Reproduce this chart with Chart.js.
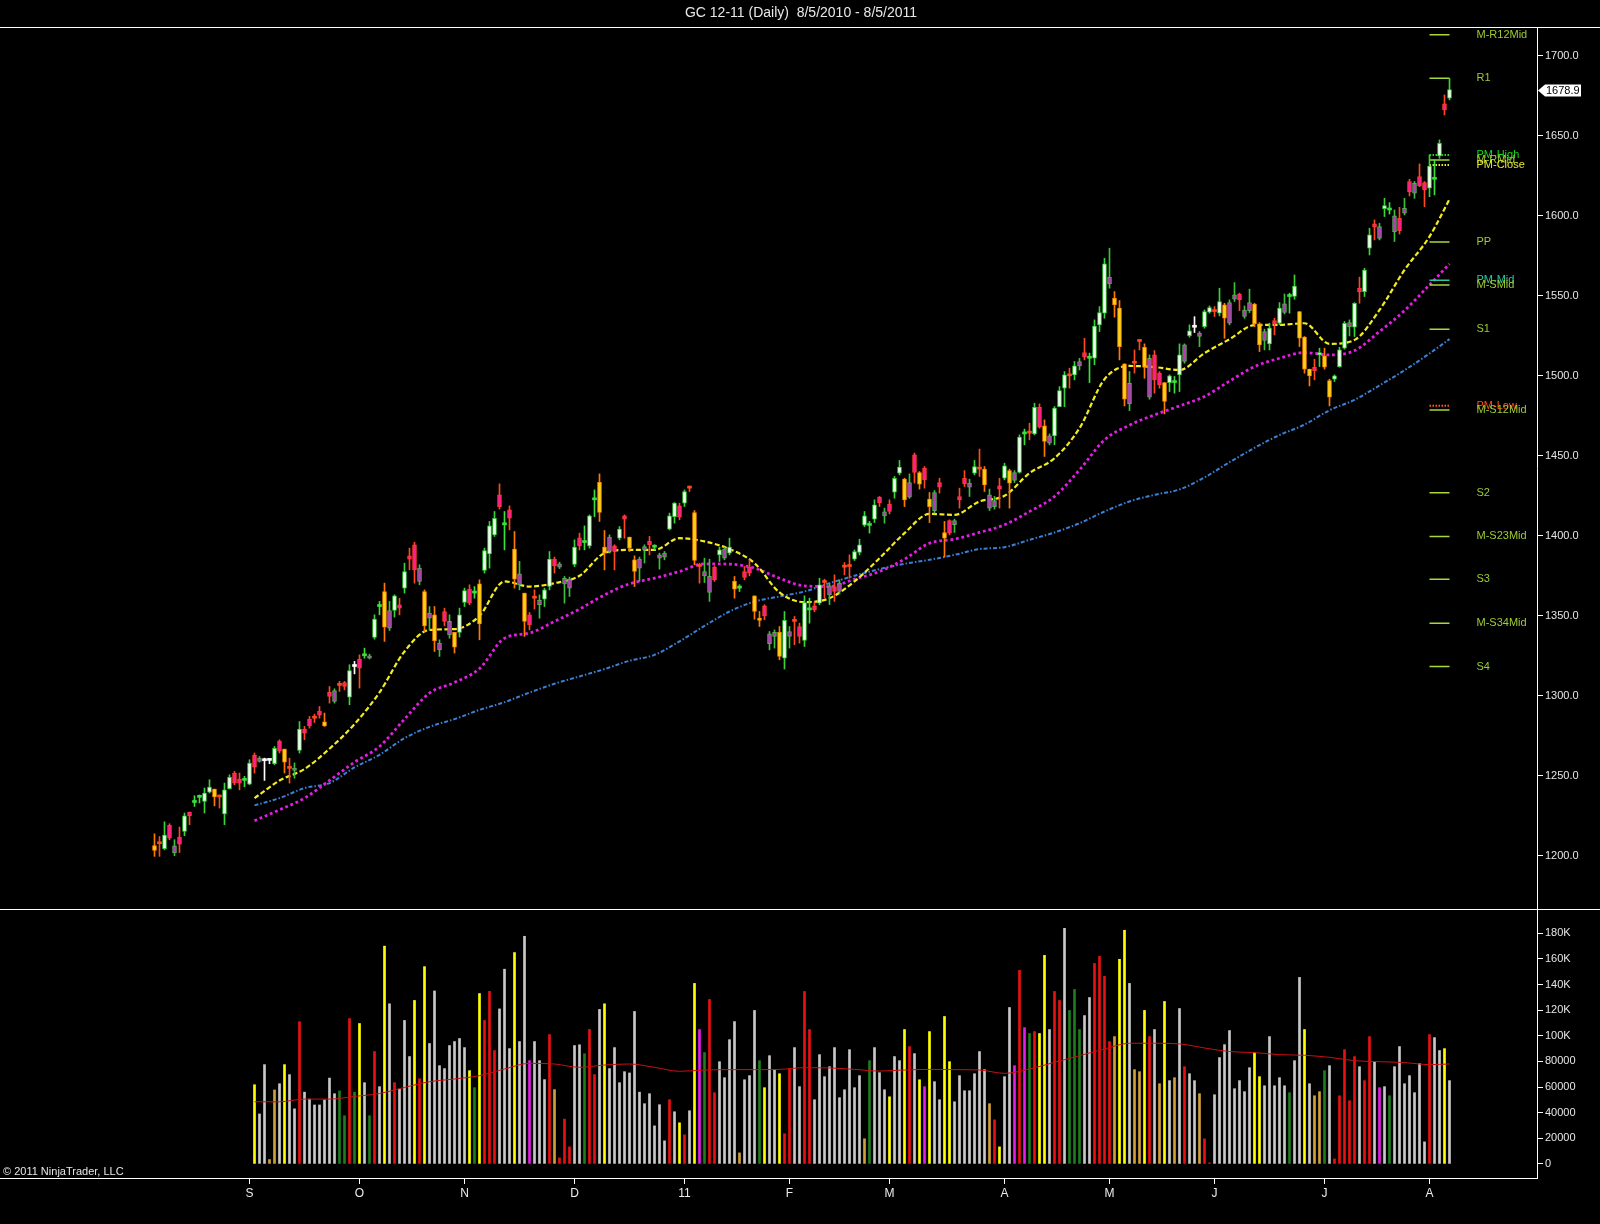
<!DOCTYPE html>
<html>
<head>
<meta charset="utf-8">
<title>GC 12-11 (Daily)</title>
<script src="https://cdn.jsdelivr.net/npm/chart.js@4.4.1/dist/chart.umd.min.js"></script>
<style>
html,body{margin:0;padding:0;background:#000;overflow:hidden;}
canvas{display:block;}
</style>
</head>
<body>
<canvas id="chart" width="1600" height="1224"></canvas>
<script>
// ================= DATA =================
const chartTitle = 'GC 12-11 (Daily)  8/5/2010 - 8/5/2011';
const copyrightText = '\u00A9 2011 NinjaTrader, LLC';

// sessions: every weekday from first to last session except closed days
const firstSession = '2010-08-05';
const lastSession = '2011-08-05';
const closedSessions = ['2010-12-24', '2011-05-30'];
// time-axis month labels (Jan shows the year)
const monthTickText = ['11','F','M','A','M','J','J','A','S','O','N','D'];
// axis tick values
const priceTicks = [1200,1250,1300,1350,1400,1450,1500,1550,1600,1650,1700];
const volumeTicksK = [0,20,40,60,80,100,120,140,160,180];

const openPrices = [
1206.3,1207.5,1204.4,1219,1206.2,1211.7,1215.2,1227.3,1233.3,1236.5,
1234,1239.8,1241.7,1236.7,1226.2,1242,1251.7,1247.9,1247.1,1244.8,
1262.7,1261,1259.4,1259.6,1257.5,1271.7,1266.7,1254.6,1254.8,1265.8,
1279.2,1285.4,1286,1290.2,1283.7,1302.1,1303.3,1306.5,1308.3,1299.2,
1318.3,1322.9,1325,1325,1336.5,1355.8,1365.2,1353.3,1353.3,1356.9,
1367.3,1387.5,1394.4,1379.8,1365.2,1351.7,1350.6,1332.9,1352.7,1346.5,
1339.6,1339.6,1358.3,1366.7,1364.2,1370,1378.3,1388.7,1400.6,1425.6,
1406.9,1416.2,1391.7,1376.2,1364.2,1350.6,1361,1359.6,1360.4,1368.3,
1385.4,1382.5,1373.5,1372.9,1382.1,1398.7,1395.8,1393.7,1422.5,1433.5,
1392.9,1399.2,1393.7,1398.5,1412.5,1399.2,1385,1385.4,1393.3,1396.5,
1392.9,1388.1,1389.2,1404.2,1412,1418.7,1420.4,1429.8,1414.6,1380.8,
1377.7,1374.6,1380.4,1388.1,1391.7,1389.2,1371.5,1367.3,1377.7,1380.4,
1362.5,1348.5,1356.2,1338.7,1339.6,1339.6,1323.5,1340.2,1346.5,1343.3,
1334.6,1353.7,1356.2,1357.9,1370.8,1368.7,1368.3,1370.4,1380.4,1380.8,
1385.4,1389.6,1406.7,1406.5,1410.4,1424.2,1415,1419.8,1427.3,1439.2,
1435.4,1433.3,1450.6,1439.6,1442.3,1422.9,1427.1,1433.3,1402.1,1409.6,
1409.6,1424.6,1436,1432.9,1439.2,1441.7,1441.7,1425.6,1422.1,1431.2,
1436,1440.8,1439.6,1439.6,1463.7,1464.2,1463.7,1480.4,1468.7,1462.5,
1462.5,1480.8,1492.3,1500,1500.6,1509,1514.6,1511,1511,1531.9,
1539.2,1561.7,1548.5,1542.3,1507.5,1495.4,1507.9,1521.5,1517.9,1511,
1513.1,1501.7,1495.8,1495.8,1495.8,1500.6,1519.4,1525.2,1530.4,1526.7,
1530.8,1539.8,1540.2,1539.2,1544.4,1545.8,1550.6,1551.2,1541.2,1545.8,
1544.8,1532.5,1527.7,1520,1534.6,1532.9,1545,1549.6,1549.6,1540.2,
1524.2,1504.2,1505.4,1513.1,1512.5,1497.1,1498,1505.8,1517.3,1533.3,
1530.4,1554.8,1552.7,1579.8,1595,1593.3,1604.6,1603.7,1600,1598.5,
1604.8,1621.5,1620.4,1624.6,1620.8,1617.3,1622.9,1637.5,1670,1673.6
];
const highPrices = [
1213.7,1212,1221.2,1220,1210,1217.9,1226.7,1227.3,1237.5,1238,
1242.3,1247.5,1241.7,1238,1245.4,1250.6,1252.7,1251.7,1249.6,1260,
1264.2,1262,1261,1260.4,1268.3,1272.5,1266.7,1261,1258,1283.9,
1280.8,1287.1,1288.5,1293.3,1289.2,1305.8,1304.4,1309,1309,1319.4,
1321.5,1325.6,1329.8,1326,1350.6,1359,1370.4,1359,1363.1,1361,
1382.9,1392.3,1396,1381.9,1366.2,1355.8,1355.8,1335,1354.8,1350.6,
1339.6,1354.8,1367.3,1369.4,1368.3,1372.5,1392.3,1409,1415.2,1432.5,
1415.2,1418.7,1402.7,1384,1364.2,1352.1,1366.2,1363.1,1367.3,1390.2,
1386.7,1383.5,1374.6,1374.2,1397.5,1401.7,1406.2,1413.1,1428.7,1438.7,
1403.3,1400.6,1394.4,1405.8,1413.1,1399.2,1387.5,1386.7,1394.4,1399.6,
1394.4,1389.2,1390.2,1414.2,1420.8,1420.4,1428.7,1431.2,1415.8,1382.9,
1386,1385.4,1381.2,1392.9,1392.9,1398.5,1374.6,1369.4,1380.8,1385,
1362.5,1352.7,1356.9,1340.2,1341.2,1343.3,1352.7,1343.3,1349.6,1345.4,
1362.5,1361,1358.8,1373.5,1372.9,1370.4,1375.6,1372.5,1383.3,1388.1,
1391.2,1397.9,1415.2,1409,1422.5,1424.6,1417.3,1422.5,1437.1,1447.1,
1436,1438.7,1451.7,1440.2,1443.3,1427.1,1428.3,1436,1409,1410,
1410.4,1429.8,1440.8,1435.4,1447.1,1454.2,1443.3,1429.2,1424.6,1436,
1445.4,1441.7,1440.8,1463.1,1466.7,1470.4,1482.9,1482.5,1472.5,1463.7,
1480.8,1493.3,1502.7,1504.8,1509,1511,1523.5,1514.2,1535,1543.3,
1573.5,1579.8,1552.7,1547.1,1507.5,1502.7,1516.2,1522.5,1520,1513.1,
1515.8,1502.7,1495.8,1500.6,1499.6,1520,1520,1531.9,1537,1527.7,
1541.2,1543.7,1543.3,1554.8,1545.4,1547.5,1558.3,1551.7,1543.7,1554.2,
1545.4,1533.3,1529.2,1532.9,1536,1545.8,1551.2,1551.7,1563.1,1540.2,
1524.6,1504.2,1510.4,1517.3,1517.3,1497.9,1500.6,1517.9,1534,1535,
1545.8,1561.7,1567.3,1592.3,1597.5,1595.4,1611,1608.3,1603.7,1605.4,
1611,1622.9,1621.5,1632.5,1621.5,1638.1,1635,1647.5,1675.6,1686
];
const lowPrices = [
1199.6,1199.6,1203.7,1210,1200,1202,1212.5,1219.4,1230.8,1233,
1226.7,1239.2,1231.2,1229.8,1219.4,1241.7,1244.4,1241.2,1243.1,1244.4,
1251.7,1258.5,1247.1,1257.5,1256.9,1264.2,1251.7,1245.4,1248.5,1264.2,
1272.5,1279.8,1283.3,1286,1280.8,1295.4,1295.4,1302.7,1303.7,1294.4,
1313.7,1304.8,1323.5,1323,1335.4,1350.6,1334,1340.8,1349.2,1350.6,
1364.2,1378.7,1370.4,1369.4,1340,1341.2,1327.7,1324.6,1343.7,1336,
1326.7,1336.7,1355.8,1356.9,1361,1335,1376.7,1379.8,1399.6,1416.7,
1391.2,1403.7,1367.3,1366.2,1337.1,1341.2,1354.2,1348.5,1355.8,1366.2,
1376.7,1379.5,1357.9,1362.1,1380.8,1391.2,1391.2,1392.3,1412,1409,
1378.7,1389.2,1378.7,1397.5,1398.5,1390.2,1368.3,1371.5,1383,1388.1,
1391.2,1379.2,1385,1403.7,1407.9,1410,1418.3,1427.7,1381.9,1370.4,
1370.8,1359,1371.5,1384,1385,1388.1,1361,1365.2,1372.5,1375,
1347.9,1343.3,1347.5,1328.7,1329.8,1322.5,1316.7,1329.8,1331.9,1332.9,
1330.8,1345.4,1352.5,1356.9,1361,1357,1359,1363.7,1375.6,1373.5,
1384.6,1388.1,1405.8,1401.7,1408.3,1418.3,1407.9,1413.7,1423.5,1438.1,
1418.3,1423.5,1433,1429.2,1429.8,1408.3,1414.2,1426.7,1386.7,1400.6,
1402.1,1417.3,1430.8,1424.6,1438.1,1437.1,1427.7,1415.8,1416.7,1417.3,
1435,1417.3,1433.3,1439.2,1456.9,1460,1463.1,1467.3,1449.6,1456.9,
1456.9,1480.8,1480.8,1492.3,1497.5,1503.7,1510,1495.8,1506.9,1527.7,
1536,1554.8,1536.7,1510,1481.2,1478.3,1501.7,1516.2,1498.5,1485.4,
1489.2,1492.3,1476.2,1490.2,1489.2,1490.2,1507.9,1524.2,1527.1,1518.3,
1529.8,1539.2,1537.1,1537.5,1523.5,1531.9,1546.5,1540.8,1536,1539.6,
1530.8,1515.2,1516.2,1516.2,1525.6,1531.9,1538.7,1539.2,1547.9,1518.3,
1501.7,1493.7,1497.5,1505.8,1504.2,1481.2,1496.5,1505.4,1516.7,1525,
1524.6,1545.4,1549.6,1575.6,1585,1585,1599.6,1601.2,1584,1588.7,
1600.6,1612.5,1611,1618.3,1605.8,1612,1613.1,1636,1663.1,1672.5
];
const closePrices = [
1203.4,1207.5,1212.9,1211,1201.7,1207.3,1225,1225,1233.3,1236.5,
1239.2,1242.9,1236.7,1236.7,1241.2,1249,1245.4,1245.4,1247.1,1257.9,
1255.4,1259,1259.4,1259.6,1267.1,1265.4,1258.5,1254.6,1253.3,1279.2,
1276.7,1281.2,1286,1287.9,1281.2,1299.6,1296.5,1306.5,1305.8,1315.8,
1318.3,1317.3,1325,1323.5,1348,1355.8,1342.9,1342.3,1362.5,1354.8,
1377.7,1385.4,1378.7,1371.5,1343.7,1348.5,1334.4,1328.7,1346.5,1338.1,
1330.4,1350.6,1365.8,1357.9,1364.2,1345,1390.8,1406.2,1411,1418.3,
1406.9,1411,1372.9,1369.4,1346.5,1344.4,1361,1356.9,1366.2,1385.4,
1381.2,1380.4,1370,1367.3,1392.9,1393.7,1395.8,1412.5,1422.5,1414.6,
1389.2,1390.2,1390.2,1404.2,1410.4,1392.3,1377.7,1379.8,1391.2,1394.4,
1392.9,1386,1386.7,1412.5,1420.4,1411.7,1427.7,1429.8,1384.6,1380.8,
1375,1364.6,1372.5,1391.2,1386,1392.9,1366.7,1367.3,1374,1376.7,
1352.7,1347.1,1350,1332.5,1337.1,1324.6,1347.1,1337.1,1346.5,1337.1,
1358.3,1353.7,1353.7,1369.4,1370.8,1363.1,1365.2,1365.2,1380.4,1380.8,
1390.2,1394.4,1412.5,1406.5,1419.4,1420.8,1412.5,1415.2,1436,1442.9,
1422.5,1424.2,1439.6,1432.3,1435,1418.3,1415.8,1430.4,1398.5,1401.7,
1406.9,1422.5,1432.5,1430.4,1443.3,1441.7,1431.9,1417.3,1418.3,1429.2,
1443.7,1432.9,1434.6,1461.7,1463.7,1464.2,1480.4,1467.9,1459,1457.9,
1479.8,1490.8,1500.6,1500,1506.2,1506.2,1511.7,1511,1531.2,1539.6,
1570,1557.5,1544.4,1518.3,1485.4,1482.5,1507.9,1521.5,1505.4,1486.7,
1497.5,1494.4,1484,1500,1495.8,1513.1,1509,1528.1,1530.4,1524.6,
1540.2,1542.7,1540.2,1546.5,1536,1532.9,1547.9,1547.5,1537.1,1540.8,
1532.5,1519.4,1522.1,1529.8,1532.5,1542.3,1539.6,1549.6,1556.2,1523.5,
1504.2,1500,1503.3,1514.5,1505.4,1486.7,1500,1516.2,1532.9,1530.8,
1545.4,1552.7,1566.2,1588.1,1592.9,1586,1606.4,1603.7,1590.2,1590.8,
1601.7,1615.2,1614.2,1618.7,1616.2,1631.2,1622.9,1645.4,1666.2,1678.9
];
// bar paint: W white-up, P pink-down, Q magenta/green, Y gold-down, G green doji, R red doji, X white doji
const candleKind = [
'YRWPQPWPGG','WWYRWWPPGW','PQXXWPYRQW','PPRPYPQRPW','XPGQWGYQWP',
'WPPQYQYQPQ','YWWPGYWWWP','GPYQYPRQWW','PQQQWPGWGY','YQPWPYYQQP',
'GQQWWPWRYR','QQPWQWYGPP','YYPQQYWQRP','WGPWRQPQRR','WWWGWPQPWW',
'YQPYPYQPYP','QPPQWRYQQP','WYQWGRWPYQ','WWWRWQPGWW','WQYYYQRRYQ',
'PPYWGWQWXQ','WWRWYQQPQQ','YYQWPWQGWY','YYPWYYWWWQ','WPWWPQWGQP',
'QPQPPWGWPW'
].join('');

// volume (thousands of contracts), from the first session shown with volume
const volumeStartSession = '2010-09-02';
const volumeK = [
61.8,39,77.5,3.4,57.7,62.6,77.5,69.7,43,111,
56,50.6,46,46,50,67,54.8,57,37.6,113.5,
56,109.6,63.4,37.6,87.7,60.3,170,125,63.4,58.4,
112,83.8,127.6,66.5,154,94,135,76.7,74.4,92.4,
95.5,97.9,90.8,72.8,59.5,133,112,134.7,88.5,121,
152,90,165,95.5,177.7,80.6,95.5,80.6,65.8,101,
58,4.7,35,13.3,92.4,93,86,105,69.7,120.6,
125,74.4,90.8,63.4,72,71,119,56,47,54.8,
29.7,46.2,18,50.1,40.7,32.1,22.7,41.5,140.9,104.9,
86.9,128.4,55.6,79.8,67.3,97,111.1,8.6,65.7,68.9,
119.8,80.6,59.5,84.5,73.6,70.4,23.5,74.4,90.8,60.3,
134.6,104.9,50.1,85.3,68.1,75.9,90.8,51.7,57.9,89.2,
59.5,68.9,19.6,80.6,90.8,71.2,57.9,52.4,83.8,80.6,
104.9,91.6,86.1,65.7,60.3,103.3,64.2,50.1,115.1,79.8,
48.5,68.9,57.1,57.1,70.4,87.7,73.6,47,34.4,13.3,
68.1,122.1,76.7,151.1,106.4,101.8,103.3,101.8,162.8,104.9,
134.6,127.6,183.9,119.8,136.2,104.9,115.8,129.9,156.5,162,
146.4,95.5,99.4,159.7,182.4,140.9,73.6,72,119.8,99.4,
104.9,62.6,126.8,65,67.3,121.3,75.9,70.4,65,54.8,
19.6,0.8,54,83,93.1,104.1,58.7,65,56.4,75.1,
86.9,68.1,61,99.4,61,67.3,61,55.6,80.6,145.6,
104.9,62.6,53.2,56.4,72.8,76.7,3.9,53.2,89.2,49.3,
83.8,75.9,65,99.4,79.8,59.5,60.3,53.2,75.9,91.6,
62.6,68.9,55.6,78.3,17.2,101,98.6,88.5,90,65
];
// volume paint: Y yellow, W grey, R red, G green, M magenta, T tan
const volumeKind = [
'YWWTTWYWWR','WWWWWWWGGR','GYWGRWYWRW','WWYRYWWWWW','WWWYGYRRRW',
'WWYWWMWWWR','TRRRWWGRRW','YWWWWWWWWW','WWWRWYRWYM','GRRWWWWTWW',
'WGYWWYRRWW','RRWWWWWWWW','WWTGWWWYWW','YRWYMYWWYY','WWWWWWWTRY',
'WWMRMGRYYW','RRWGGGWWRR','RRTYYWTTYR','WTYWTWRWWT','RRWWWWWWWW',
'YYWWWWWGWW','YWTTGWRRRR','RWRRWMWGWW','WWWWWRWWYW'
].join('');

// moving averages at these bar numbers (0 = first session)
const maBars = [
20,25,30,35,40,45,50,55,60,65,
70,75,80,85,90,95,100,105,110,115,
120,125,130,135,140,145,150,155,160,165,
170,175,180,185,190,195,200,205,210,215,
220,225,230,235,240,245,250,255,259
];
const maFast = [
1236,1247,1254.2,1266.9,1282.3,1302.1,1327.7,1341.2,1341.7,1350,
1371.5,1368.3,1370.4,1375,1389.2,1391.2,1391.2,1398.5,1396.5,1391.7,
1382.9,1364.6,1358.5,1361,1371.5,1386,1401.7,1413.7,1413.1,1421.5,
1425,1439.2,1448.5,1467.3,1497.9,1506.2,1505.5,1503.7,1514.2,1522.9,
1531.7,1531.9,1532.9,1520,1522.5,1541.2,1566.2,1587.1,1610.4
];
const maMid = [
1221.9,1228.7,1236,1247.1,1258.5,1268.3,1285.4,1301.7,1308.3,1317,
1336,1339.2,1346.5,1354.2,1363.1,1370,1373.5,1377.7,1382.5,1382.3,
1379.8,1373.5,1368.7,1368.3,1372.9,1377.7,1385.4,1395.4,1397.9,1402.1,
1406.9,1415.2,1424.6,1441.2,1460,1469.2,1475.6,1481.2,1487.1,1496.7,
1505.8,1511,1514.6,1513.1,1515.8,1527.7,1540.8,1556.9,1570
];
const maSlow = [
1231.5,1236,1242.3,1245.4,1255.2,1263.1,1273.5,1280.6,1285.4,1291.2,
1296,1302,1307.5,1312.1,1316.7,1321.9,1325.6,1334,1343.7,1352.7,
1358.9,1362.1,1365.2,1370.4,1375,1379.2,1382.5,1385,1388.1,1391.7,
1392.9,1397.5,1402.1,1407.9,1415.2,1421.5,1425.6,1429,1436.5,1446,
1455,1463,1469.5,1478.5,1485,1494,1503.5,1514,1523
];
const volumeMaK = [
48.5,48.5,50.6,50.6,52.7,55,59.7,64.2,66.3,68.9,
74.1,78.5,78,75.4,77.2,78,75.4,72.3,73.3,73.6,
73.6,73.8,75.1,74.9,73.8,72.5,73.3,73.8,73.6,73.3,
70.7,74.1,79.3,84.5,89.7,94.2,94.2,93.7,90.5,87.7,
86.9,85.3,84.8,83.2,80.6,79.8,79.1,77.5,78
];

// monthly pivot levels for August 2011
const pivotStartSession = '2011-08-01';
const pivotNames = ['M-R12Mid','R1','PM-High','M-RMid','PM-Close','PP','PM-Mid','M-SMid',
  'S1','PM-Low','M-S12Mid','S2','M-S23Mid','S3','M-S34Mid','S4'];
const pivotValues = [1713.3,1686.1,1638.1,1635.0,1631.9,1583.7,1559.7,1556.8,
  1529.2,1481.3,1478.6,1427.0,1399.6,1372.8,1345.4,1318.3];

// ================= STYLE / LAYOUT =================
const FONT = "'Liberation Sans', Arial, Helvetica, sans-serif";
Chart.defaults.font.family = FONT;
Chart.defaults.color = '#e6e6e6';

const PAD_LEFT = 30, PAD_RIGHT = 17;
const BODY_FILL = {W:'#f0fff0', P:'#ff1e8c', Q:'#b43cb4', Y:'#ffd21a', G:'#3ce03c', R:'#ff4a1e', X:'#ffffff'};
const BODY_EDGE = {W:'#3cd23c', P:'#ff3c28', Q:'#5aaa5a', Y:'#ff8a00', G:'#3ce03c', R:'#ff4a1e', X:'#ffffff'};
const WICK_COL  = {W:'#3cd23c', P:'#ff4a1e', Q:'#3cc03c', Y:'#ff7a00', G:'#3ce03c', R:'#ff4a1e', X:'#ffffff'};
const VOL_COL = {Y:'#ffff00', W:'#c8c8c8', R:'#e81212', G:'#1e7d1e', M:'#e41ee4', T:'#d2a038'};
const PIVOT_STYLE = {
  'PM-High':  {line:'#1ed21e', text:'#1ed21e', dotted:true},
  'PM-Close': {line:'#e8e832', text:'#e8e832', dotted:true},
  'PM-Low':   {line:'#ff5a1e', text:'#ff4a14', dotted:true},
  'PM-Mid':   {line:'#28c8a0', text:'#28c8a0', dotted:false}
};
const PIVOT_DEFAULT = {line:'#a6d83c', text:'#9ccd32', dotted:false};
const pivotStyle = n => PIVOT_STYLE[n] || PIVOT_DEFAULT;

// ================= BUILD =================
function buildSessions() {
  const out = [];
  const d = new Date(firstSession + 'T12:00:00Z');
  const end = new Date(lastSession + 'T12:00:00Z');
  while (d <= end) {
    const wd = d.getUTCDay();
    const iso = d.toISOString().slice(0, 10);
    if (wd !== 0 && wd !== 6 && !closedSessions.includes(iso)) out.push(iso);
    d.setUTCDate(d.getUTCDate() + 1);
  }
  return out;
}
const sessions = buildSessions();
const nBars = sessions.length;
[openPrices, highPrices, lowPrices, closePrices].forEach((a, k) => {
  if (a.length !== nBars) throw new Error('price array ' + k + ' length ' + a.length + ' != ' + nBars);
});
if (candleKind.length !== nBars) throw new Error('candleKind length ' + candleKind.length);
const volStart = sessions.indexOf(volumeStartSession);
if (volumeK.length !== nBars - volStart) throw new Error('volume length ' + volumeK.length + ' vs ' + (nBars - volStart));
if (volumeKind.length !== volumeK.length) throw new Error('volumeKind length ' + volumeKind.length);
[maFast, maMid, maSlow, volumeMaK].forEach((a, k) => {
  if (a.length !== maBars.length) throw new Error('ma ' + k + ' length ' + a.length);
});

const labels = [...Array(PAD_LEFT).fill(''), ...sessions, ...Array(PAD_RIGHT).fill('')];
const N = labels.length;
const empty = () => new Array(N).fill(null);

const bodyData = empty(), wickData = empty(), volData = empty();
sessions.forEach((s, i) => {
  bodyData[PAD_LEFT + i] = [openPrices[i], closePrices[i]];
  wickData[PAD_LEFT + i] = [lowPrices[i], highPrices[i]];
});
volumeK.forEach((v, k) => { volData[PAD_LEFT + volStart + k] = v; });
function sparse(vals) { const a = empty(); maBars.forEach((b, k) => { a[PAD_LEFT + b] = vals[k]; }); return a; }

const monthTicks = {};
sessions.forEach((s, i) => {
  if (i > 0 && s.slice(5, 7) !== sessions[i - 1].slice(5, 7)) monthTicks[PAD_LEFT + i] = monthTickText[+s.slice(5, 7) - 1];
});

const pivotStart = sessions.indexOf(pivotStartSession);
const kindAt = idx => candleKind[idx - PAD_LEFT] || 'W';
const vkindAt = idx => volumeKind[idx - PAD_LEFT - volStart] || 'W';
const isDoji = k => k === 'G' || k === 'R' || k === 'X';

const pivotDatasets = pivotNames.map((name, k) => {
  const d = empty();
  for (let i = pivotStart; i < nBars; i++) d[PAD_LEFT + i] = pivotValues[k];
  const st = pivotStyle(name);
  return {
    type: 'line', label: name, data: d, yAxisID: 'yP',
    borderColor: st.line, borderWidth: st.dotted ? 2 : 1.5,
    borderDash: st.dotted ? [1.5, 1.5] : [],
    pointRadius: 0, spanGaps: false
  };
});

// ================= PLUGINS =================
const framePlugin = {
  id: 'frame',
  beforeDraw(chart) {
    const c = chart.ctx; c.save(); c.fillStyle = '#000'; c.fillRect(0, 0, chart.width, chart.height); c.restore();
  },
  afterDatasetsDraw(chart) {
    const {ctx, scales: {x, yP}} = chart;
    const lx = x.getPixelForValue(PAD_LEFT + nBars - 1) + 27;
    ctx.save();
    ctx.font = '11px ' + FONT; ctx.textAlign = 'left'; ctx.textBaseline = 'middle';
    pivotNames.forEach((n, k) => {
      ctx.fillStyle = pivotStyle(n).text;
      ctx.fillText(n, lx, yP.getPixelForValue(pivotValues[k]));
    });
    ctx.restore();
  },
  afterDraw(chart) {
    const {ctx, chartArea, scales: {yP, yV}} = chart;
    ctx.save();
    ctx.strokeStyle = '#ffffff'; ctx.lineWidth = 1;
    ctx.beginPath();
    const t = Math.round(chartArea.top) + 0.5, s = Math.round(yP.bottom) + 0.5, b = Math.round(chartArea.bottom) + 0.5;
    ctx.moveTo(0, t); ctx.lineTo(chart.width, t);
    ctx.moveTo(0, s); ctx.lineTo(chart.width, s);
    ctx.moveTo(0, b); ctx.lineTo(chartArea.right, b);
    ctx.stroke();
    // copyright
    ctx.fillStyle = '#e6e6e6'; ctx.font = '11px ' + FONT; ctx.textAlign = 'left'; ctx.textBaseline = 'middle';
    ctx.fillText(copyrightText, 3, yV.bottom - 6);
    // last price marker
    const last = closePrices[nBars - 1];
    const y = Math.round(yP.getPixelForValue(last)) + 0.5, x0 = yP.left;
    ctx.fillStyle = '#ffffff';
    ctx.beginPath();
    ctx.moveTo(x0 + 1, y); ctx.lineTo(x0 + 8, y - 6); ctx.lineTo(x0 + 44, y - 6);
    ctx.lineTo(x0 + 44, y + 6); ctx.lineTo(x0 + 8, y + 6); ctx.closePath(); ctx.fill();
    ctx.fillStyle = '#000'; ctx.fillText(last.toFixed(1), x0 + 9, y + 0.5);
    ctx.restore();
  }
};

// ================= CHART =================
const volTick = v => (v >= 100 ? v + 'K' : String(Math.round(v * 1000)));

new Chart(document.getElementById('chart'), {
  type: 'bar',
  data: {
    labels,
    datasets: [
      {
        label: 'body', data: bodyData, yAxisID: 'yP', grouped: false, barThickness: 4,
        minBarLength: 2, borderSkipped: false,
        backgroundColor: c => BODY_FILL[kindAt(c.dataIndex)],
        borderColor: c => BODY_EDGE[kindAt(c.dataIndex)],
        borderWidth: c => (isDoji(kindAt(c.dataIndex)) ? 0 : 1)
      },
      {
        label: 'wick', data: wickData, yAxisID: 'yP', grouped: false, barThickness: 1,
        borderWidth: 0, borderSkipped: false,
        backgroundColor: c => WICK_COL[kindAt(c.dataIndex)]
      },
      ...pivotDatasets,
      {
        type: 'line', label: 'fast', data: sparse(maFast), yAxisID: 'yP', spanGaps: true,
        borderColor: '#f2ec1e', borderWidth: 2.2, borderDash: [5, 2.5], pointRadius: 0,
        cubicInterpolationMode: 'monotone'
      },
      {
        type: 'line', label: 'mid', data: sparse(maMid), yAxisID: 'yP', spanGaps: true,
        borderColor: '#e21ee2', borderWidth: 2.8, borderDash: [2.8, 2.8], pointRadius: 0,
        cubicInterpolationMode: 'monotone'
      },
      {
        type: 'line', label: 'slow', data: sparse(maSlow), yAxisID: 'yP', spanGaps: true,
        borderColor: '#3a80d6', borderWidth: 2, borderDash: [4, 2, 1.5, 2], pointRadius: 0,
        cubicInterpolationMode: 'monotone'
      },
      {
        type: 'line', label: 'volma', data: sparse(volumeMaK), yAxisID: 'yV', spanGaps: true,
        borderColor: '#c81010', borderWidth: 1, pointRadius: 0, cubicInterpolationMode: 'monotone'
      },
      {
        label: 'volume', data: volData, yAxisID: 'yV', grouped: false, barThickness: 2,
        borderWidth: 0, backgroundColor: c => VOL_COL[vkindAt(c.dataIndex)]
      }
    ]
  },
  options: {
    responsive: false, animation: false, devicePixelRatio: 1,
    layout: {padding: {left: 2, right: 0, top: 0, bottom: 0}},
    plugins: {
      legend: {display: false}, tooltip: {enabled: false},
      title: {
        display: true, text: chartTitle, color: '#e8e8e8',
        font: {family: FONT, size: 14, weight: 'normal', lineHeight: '17px'},
        padding: {top: 5, bottom: 5}
      }
    },
    scales: {
      x: {
        type: 'category', offset: true,
        grid: {display: true, drawOnChartArea: false, drawTicks: true, tickLength: 6, color: '#ffffff', offset: false},
        border: {display: true, color: '#ffffff'},
        ticks: {autoSkip: false, maxRotation: 0, minRotation: 0, padding: 2, color: '#ececec',
          font: {size: 12}, callback: v => monthTicks[v] || ''},
        afterBuildTicks: s => { s.ticks = s.ticks.filter(t => monthTicks[t.value] !== undefined); },
        afterFit: s => { s.height = 46; }
      },
      yP: {
        type: 'linear', position: 'right', stack: 'panes', stackWeight: 882,
        min: 1166.7, max: 1718.1,
        grid: {display: true, drawOnChartArea: false, drawTicks: true, tickLength: 6, color: '#ffffff'},
        border: {display: true, color: '#ffffff'},
        ticks: {autoSkip: false, padding: 2, color: '#e6e6e6', font: {size: 11},
          callback: v => Number(v).toFixed(1)},
        afterBuildTicks: s => { s.ticks = priceTicks.map(v => ({value: v})); },
        afterFit: s => { s.width = 63; }
      },
      yV: {
        type: 'linear', position: 'right', stack: 'panes', stackWeight: 269,
        min: -11, max: 199,
        grid: {display: true, drawOnChartArea: false, drawTicks: true, tickLength: 6, color: '#ffffff'},
        border: {display: true, color: '#ffffff'},
        ticks: {autoSkip: false, padding: 2, color: '#e6e6e6', font: {size: 11},
          callback: v => volTick(v)},
        afterBuildTicks: s => { s.ticks = volumeTicksK.map(v => ({value: v})); },
        afterFit: s => { s.width = 63; }
      }
    }
  },
  plugins: [framePlugin]
});
</script>
</body>
</html>
